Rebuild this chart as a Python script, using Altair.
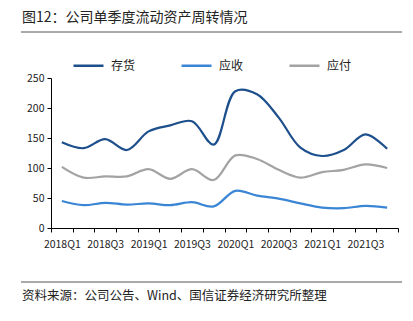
import altair as alt
import pandas as pd

quarters = ["2018Q1", "2018Q2", "2018Q3", "2018Q4",
            "2019Q1", "2019Q2", "2019Q3", "2019Q4",
            "2020Q1", "2020Q2", "2020Q3", "2020Q4",
            "2021Q1", "2021Q2", "2021Q3", "2021Q4"]
inventory = [143, 133, 148, 130, 161, 171, 178, 139, 228, 223, 184, 134, 120, 130, 156, 132]
receivable = [45, 38, 42, 39, 41, 38, 43, 36, 62, 54, 49, 41, 34, 33, 37, 34]
payable = [102, 84, 86, 86, 98, 82, 98, 80, 121, 115, 97, 84, 93, 97, 106, 100]
series_names = ["存货", "应收", "应付"]
series_colors = ["#1d4f8c", "#3a86d4", "#a3a3a3"]

title_text = "图12：公司单季度流动资产周转情况"
source_text = "资料来源：公司公告、Wind、国信证券经济研究所整理"

rows = []
for name, vals in zip(series_names, [inventory, receivable, payable]):
    for q, v in zip(quarters, vals):
        rows.append({"quarter": q, "value": v, "series": name})
df = pd.DataFrame(rows)

FONT = "Noto Sans CJK SC"
W, H = 347, 150

lines = alt.Chart(df).mark_line(
    interpolate="catmull-rom", strokeWidth=2.2
).encode(
    x=alt.X("quarter:O", sort=quarters,
            scale=alt.Scale(type="band", paddingInner=0, paddingOuter=0),
            axis=alt.Axis(title=None, labelAngle=0, tickBand="extent",
                          labelOverlap=False,
                          labelExpr="(indexof(datum.label,'Q2')>=0 || indexof(datum.label,'Q4')>=0) ? '' : datum.label",
                          domainColor="#000", tickColor="#000", tickSize=4,
                          labelFont=FONT, labelFontSize=10.5, labelColor="#222",
                          labelPadding=7)),
    y=alt.Y("value:Q", scale=alt.Scale(domain=[0, 250]),
            axis=alt.Axis(title=None, values=[0, 50, 100, 150, 200, 250],
                          grid=False, domainColor="#000", tickColor="#000",
                          tickSize=4, labelFont=FONT, labelFontSize=10.5,
                          labelColor="#222", labelPadding=3)),
    color=alt.Color("series:N", sort=series_names,
                    scale=alt.Scale(domain=series_names, range=series_colors),
                    legend=alt.Legend(title=None, orient="none", direction="horizontal",
                                      legendX=21, legendY=-29, padding=0,
                                      symbolType="stroke", symbolSize=900,
                                      symbolStrokeWidth=2.5, labelOffset=6,
                                      columnPadding=40, labelFont=FONT,
                                      labelFontSize=12, labelColor="#222")),
)

title_df = pd.DataFrame({"t": [title_text]})
title = alt.Chart(title_df).mark_text(
    align="left", baseline="middle", font=FONT, fontSize=14, color="#222"
).encode(x=alt.value(-29), y=alt.value(-60), text="t:N")

src_df = pd.DataFrame({"t": [source_text]})
source = alt.Chart(src_df).mark_text(
    align="left", baseline="middle", font=FONT, fontSize=12.5, color="#222"
).encode(x=alt.value(-29), y=alt.value(218), text="t:N")

top_rule = alt.Chart(title_df).mark_rule(color="#555", strokeWidth=1).encode(
    x=alt.value(-30), x2=alt.value(351), y=alt.value(-46))
bottom_rule = alt.Chart(src_df).mark_rule(color="#555", strokeWidth=1).encode(
    x=alt.value(-30), x2=alt.value(351), y=alt.value(204))

chart = alt.layer(lines, title, source, top_rule, bottom_rule).properties(
    width=W, height=H, autosize="none",
    padding={"left": 51, "top": 78, "right": 15, "bottom": 93},
).configure_view(stroke=None)

chart.save("out.html", embed_options={"renderer": "svg", "actions": False})
